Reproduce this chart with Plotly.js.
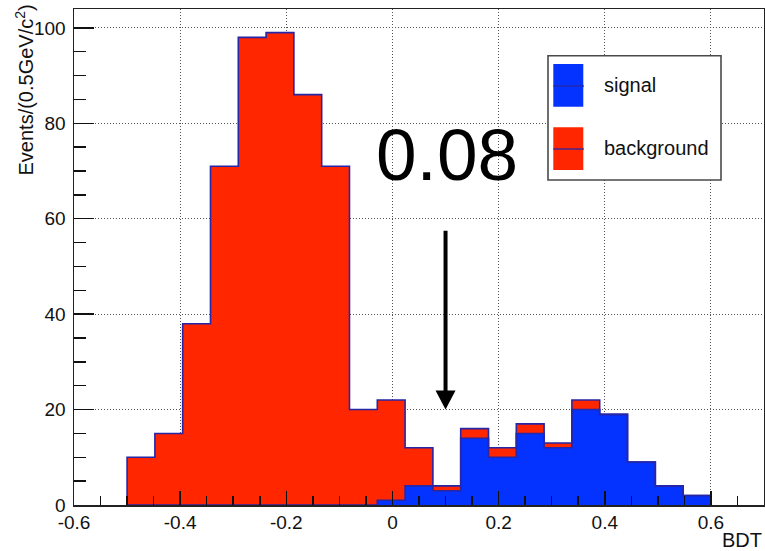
<!DOCTYPE html>
<html><head><meta charset="utf-8">
<script src="https://cdn.plot.ly/plotly-3.0.1.min.js"></script>
<style>html,body{margin:0;padding:0;background:#fff}#chart{width:765px;height:551px}</style>
</head><body><div id="chart"></div>
<script>
// ---- data ----
const histLow = -0.5;
const histHigh = 0.6;
const signalCounts     = [0,0,0,0,0,0,0,0,0,1,4,3,14,10,15,12,20,19,9,4,2];
const backgroundCounts = [10,15,38,71,98,99,86,71,20,21,8,1,2,2,2,1,2,0,0,0,0];
const seriesNames = ['signal', 'background'];
const xTickValues = [-0.6,-0.4,-0.2,0,0.2,0.4,0.6];
const xTickLabels = ['-0.6','-0.4','-0.2','0','0.2','0.4','0.6'];
const yTickValues = [0,20,40,60,80,100];
const yTickLabels = ['0','20','40','60','80','100'];
const cutLabel = '0.08';
const cutPosition = 0.1;
const arrowFrom = 57.5;
const arrowTo = 20;

// ---- styling ----
const FONT = '"Liberation Sans", Arial, Helvetica, sans-serif';
const BLUE = '#0433ff', RED = '#ff2600', EDGE = '#2626a6';
const M = {l:74, r:1, t:9, b:46};
const W = 765, H = 551;
const PW = W - M.l - M.r, PH = H - M.t - M.b;
const px = x => (x - M.l) / PW;
const py = y => (H - M.b - y) / PH;

const nBins = signalCounts.length;
const bw = (histHigh - histLow) / nBins;
const centers = signalCounts.map((_, i) => histLow + (i + 0.5) * bw);
const edges = Array.from({length: nBins + 1}, (_, i) => histLow + i * bw);
const totals = signalCounts.map((v, i) => v + backgroundCounts[i]);

function step(vals) {
  const xs = [edges[0]], ys = [0];
  vals.forEach((v, i) => { xs.push(edges[i]); ys.push(v); });
  xs.push(edges[nBins]); ys.push(0);
  return {x: xs, y: ys};
}

const traces = [
  {type:'bar', x:centers, y:signalCounts, width:bw, name:seriesNames[0],
   marker:{color:BLUE, line:{width:0}}, hoverinfo:'x+y'},
  {type:'bar', x:centers, y:backgroundCounts, width:bw, name:seriesNames[1],
   marker:{color:RED, line:{width:0}}, hoverinfo:'x+y'},
  Object.assign({type:'scatter', mode:'lines', line:{shape:'hv', color:EDGE, width:1.6},
   hoverinfo:'skip', showlegend:false}, step(totals)),
  Object.assign({type:'scatter', mode:'lines', line:{shape:'hv', color:EDGE, width:1.6},
   hoverinfo:'skip', showlegend:false}, step(signalCounts))
];

const minorX = [];
for (let k = -12; k <= 14; k++) minorX.push(+(k * 0.05).toFixed(2));
const minorY = [];
for (let k = 0; k <= 20; k++) minorY.push(k * 5);

const shapes = [
  // arrow
  {type:'line', xref:'x', yref:'y', x0:cutPosition, x1:cutPosition, y0:arrowFrom, y1:arrowTo + 2,
   line:{color:'#000', width:4}},
  {type:'path', xref:'x', yref:'y', xsizemode:'pixel', ysizemode:'pixel',
   xanchor:cutPosition, yanchor:arrowTo, path:'M-10,19 L10,19 L0,0 Z',
   fillcolor:'#000', line:{width:0}},
  // legend box
  {type:'rect', xref:'paper', yref:'paper', x0:px(548), x1:px(721), y0:py(180), y1:py(55.7),
   fillcolor:'#fff', line:{color:'#4a4a4a', width:1.6}},
  {type:'rect', xref:'paper', yref:'paper', x0:px(553.3), x1:px(583.3), y0:py(106.7), y1:py(64),
   fillcolor:BLUE, line:{width:0}},
  {type:'rect', xref:'paper', yref:'paper', x0:px(553.3), x1:px(583.3), y0:py(170), y1:py(127.3),
   fillcolor:RED, line:{width:0}},
  {type:'line', xref:'paper', yref:'paper', x0:px(553.3), x1:px(584), y0:py(86), y1:py(86),
   line:{color:EDGE, width:1.3}},
  {type:'line', xref:'paper', yref:'paper', x0:px(553.3), x1:px(584), y0:py(149), y1:py(149),
   line:{color:EDGE, width:1.3}}
];

const annotations = [
  {text:cutLabel, xref:'x', yref:'y', x:cutPosition + 0.0025, y:73.4, showarrow:false,
   font:{family:FONT, size:73, color:'#000'}, xanchor:'center', yanchor:'middle'},
  {text:seriesNames[0], xref:'paper', yref:'paper', x:px(601.7), y:py(85), showarrow:false,
   xanchor:'left', yanchor:'middle', font:{family:FONT, size:20, color:'#111'}},
  {text:seriesNames[1], xref:'paper', yref:'paper', x:px(601.7), y:py(148), showarrow:false,
   xanchor:'left', yanchor:'middle', font:{family:FONT, size:20, color:'#111'}},
  {text:'BDT', xref:'paper', yref:'paper', x:px(764), y:py(540), showarrow:false,
   xanchor:'right', yanchor:'middle', font:{family:FONT, size:20, color:'#111'}},
  {text:'Events/(0.5GeV/c<sup>2</sup>)', xref:'paper', yref:'paper', x:px(24), y:py(3),
   textangle:-90, showarrow:false, xanchor:'center', yanchor:'top',
   font:{family:FONT, size:20, color:'#111'}}
];

const GRID = {showgrid:true, gridcolor:'#555', gridwidth:1, griddash:'1px,2px'};

const layout = {
  width:W, height:H, margin:M, paper_bgcolor:'#fff', plot_bgcolor:'#fff',
  barmode:'stack', bargap:0, showlegend:false,
  xaxis:Object.assign({range:[-0.6, 0.7], tickmode:'array', tickvals:xTickValues, ticktext:xTickLabels,
    ticks:'inside', ticklen:14, tickwidth:1.5, tickcolor:'#111',
    showline:true, linecolor:'#222', linewidth:1.5, mirror:true, zeroline:false,
    tickfont:{family:FONT, size:19, color:'#111'},
    minor:{tickmode:'array', tickvals:minorX, ticks:'inside', ticklen:9, tickwidth:1.5, tickcolor:'#111', showgrid:false}}, GRID),
  yaxis:Object.assign({range:[0, 103.95], tickmode:'array', tickvals:yTickValues, ticktext:yTickLabels,
    ticks:'inside', ticklen:20, tickwidth:1.5, tickcolor:'#111',
    showline:true, linecolor:'#222', linewidth:1.5, mirror:true, zeroline:false,
    ticklabelstandoff:3,
    tickfont:{family:FONT, size:19, color:'#111'},
    minor:{tickmode:'array', tickvals:minorY, ticks:'inside', ticklen:12, tickwidth:1.5, tickcolor:'#111', showgrid:false}}, GRID),
  shapes:shapes, annotations:annotations
};

Plotly.newPlot('chart', traces, layout, {displayModeBar:false, staticPlot:true});
</script></body></html>
